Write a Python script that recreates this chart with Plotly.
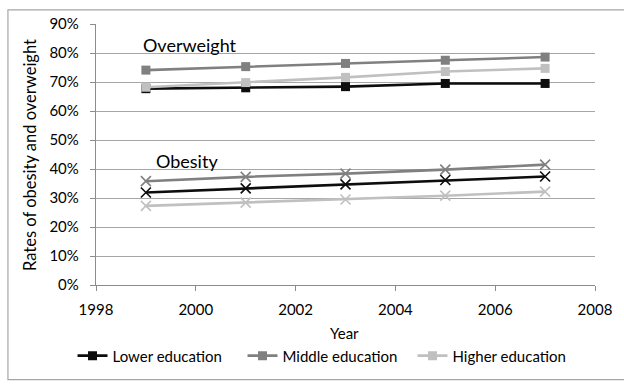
import plotly.graph_objects as go

# Survey years
years = [1999, 2001, 2003, 2005, 2007]

# Overweight rates by education level
overweight_lower = [0.677, 0.680, 0.684, 0.695, 0.695]
overweight_middle = [0.741, 0.753, 0.764, 0.775, 0.786]
overweight_higher = [0.682, 0.698, 0.716, 0.736, 0.747]

# Obesity rates by education level
obesity_lower = [0.319, 0.333, 0.347, 0.362, 0.374]
obesity_middle = [0.358, 0.373, 0.384, 0.398, 0.415]
obesity_higher = [0.273, 0.284, 0.295, 0.308, 0.322]

groups = ["Lower education", "Middle education", "Higher education"]
colors = ["#0d0d0d", "#808080", "#c0c0c0"]

FONT = "Lato"

fig = go.Figure()

for name, vals, col in zip(groups, [overweight_lower, overweight_middle, overweight_higher], colors):
    fig.add_trace(go.Scatter(
        x=years, y=vals, name=name, mode="lines+markers",
        line=dict(color=col, width=2.6),
        marker=dict(symbol="square", size=9, color=col),
        legendgroup=name,
    ))

for name, vals, col in zip(groups, [obesity_lower, obesity_middle, obesity_higher], colors):
    fig.add_trace(go.Scatter(
        x=years, y=vals, name=name, mode="lines+markers",
        line=dict(color=col, width=2.6),
        marker=dict(symbol="x-thin", size=10, color=col, line=dict(color=col, width=1.6)),
        legendgroup=name, showlegend=False,
    ))

W, H = 624, 385
L, R, T, B = 96, 18, 24, 85
pw, ph = W - L - R, H - T - B

def px_x(px):
    return (px - L) / pw

def px_y(py):
    return (H - B - py) / ph

fig.update_layout(
    width=W, height=H,
    margin=dict(l=L, r=R, t=T, b=B),
    paper_bgcolor="white", plot_bgcolor="white",
    font=dict(family=FONT, size=15, color="#000000"),
    showlegend=True,
    legend=dict(
        orientation="h", x=px_x(72), xanchor="left", y=px_y(375), yanchor="middle",
        font=dict(family=FONT, size=15, color="#000000"),
        entrywidth=125, entrywidthmode="pixels",
        bgcolor="rgba(0,0,0,0)",
    ),
    xaxis=dict(
        range=[1998, 2008], dtick=2, tick0=1998,
        showgrid=False, zeroline=False,
        showline=True, linecolor="#8c8c8c", linewidth=1.3,
        ticks="outside", ticklen=5, tickcolor="#8c8c8c", tickwidth=1.3,
        ticklabelstandoff=6,
        tickfont=dict(family=FONT, size=15, color="#000000"),
    ),
    yaxis=dict(
        range=[0, 0.9], dtick=0.1, tick0=0, tickformat=".0%",
        showgrid=True, gridcolor="#a6a6a6", gridwidth=1.3,
        zeroline=False,
        showline=True, linecolor="#8c8c8c", linewidth=1.3,
        ticks="outside", ticklen=5, tickcolor="#8c8c8c", tickwidth=1.3,
        ticklabelstandoff=8,
        tickfont=dict(family=FONT, size=15, color="#000000"),
    ),
    annotations=[
        dict(text="Overweight", x=1998.9, y=0.828, xref="x", yref="y",
             xanchor="left", yanchor="middle", showarrow=False,
             font=dict(family=FONT, size=18, color="#000000")),
        dict(text="Obesity", x=1999.16, y=0.428, xref="x", yref="y",
             xanchor="left", yanchor="middle", showarrow=False,
             font=dict(family=FONT, size=18, color="#000000")),
        dict(text="Rates of obesity and overweight", x=px_x(28), y=0.5,
             xref="paper", yref="paper", textangle=-90,
             xanchor="center", yanchor="middle", showarrow=False,
             font=dict(family=FONT, size=16.5, color="#000000")),
        dict(text="Year", x=px_x(350), y=px_y(351), xref="paper", yref="paper",
             xanchor="center", yanchor="middle", showarrow=False,
             font=dict(family=FONT, size=15, color="#000000")),
    ],
    shapes=[
        dict(type="rect", xref="paper", yref="paper",
             x0=px_x(6), x1=px_x(640), y0=px_y(400), y1=px_y(9),
             line=dict(color="#a6a6a6", width=1.2), fillcolor="rgba(0,0,0,0)",
             layer="below"),
    ],
)

fig.write_html("out.html")
